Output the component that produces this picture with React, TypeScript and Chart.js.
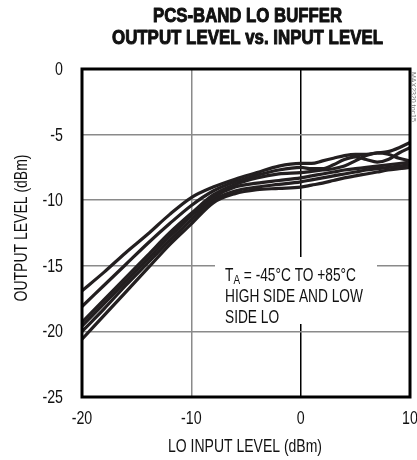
import React, { useEffect, useRef } from "react";
import { Chart, registerables } from "chart.js";

Chart.register(...registerables);

const titleLines = ["PCS-BAND LO BUFFER", "OUTPUT LEVEL vs. INPUT LEVEL"];
const xAxisTitle = "LO INPUT LEVEL (dBm)";
const yAxisTitle = "OUTPUT LEVEL (dBm)";
const noteLines = ["HIGH SIDE AND LOW", "SIDE LO"];
const sideNote = "MAX2320 toc15";

const inputLevels = [-20, -18, -16, -14, -12, -10, -8, -6, -4, -2, 0, 1, 2, 3, 4, 5, 6, 7, 8, 9, 10];
const curveA = [-16.9, -15.5, -14.0, -12.6, -11.1, -9.8, -9.0, -8.4, -7.9, -7.4, -7.2, -7.2, -7.0, -6.8, -6.6, -6.5, -6.5, -6.4, -6.3, -6.0, -5.6];
const curveB = [-18.1, -16.5, -14.9, -13.3, -11.8, -10.4, -9.3, -8.6, -8.1, -7.7, -7.5, -7.6, -7.6, -7.3, -6.9, -6.7, -6.9, -7.1, -6.9, -6.4, -6.0];
const curveC = [-19.3, -17.6, -15.9, -14.2, -12.5, -11.0, -9.6, -8.8, -8.3, -8.0, -7.9, -7.8, -7.7, -7.6, -7.4, -7.0, -6.6, -6.4, -6.5, -6.8, -7.0];
const curveD = [-19.6, -17.9, -16.2, -14.5, -12.8, -11.2, -9.8, -9.0, -8.7, -8.5, -8.3, -8.15, -8.0, -7.85, -7.7, -7.6, -7.5, -7.4, -7.3, -7.2, -7.1];
const curveE = [-20.0, -18.3, -16.5, -14.8, -13.1, -11.5, -10.0, -9.3, -9.0, -8.8, -8.6, -8.45, -8.3, -8.15, -8.0, -7.85, -7.7, -7.6, -7.5, -7.4, -7.3];
const curveF = [-20.6, -18.8, -17.0, -15.2, -13.4, -11.8, -10.2, -9.5, -9.2, -9.1, -9.0, -8.85, -8.7, -8.5, -8.3, -8.15, -8.0, -7.85, -7.7, -7.6, -7.5];
const curves = [curveA, curveB, curveC, curveD, curveE, curveF];

const xTicks = [-20, -10, 0, 10];
const yTicks = [0, -5, -10, -15, -20, -25];

const SANS = "'Liberation Sans', Arial, sans-serif";
const NARROW = 0.79; // horizontal condensing of the regular text

function drawText(
  ctx: CanvasRenderingContext2D,
  text: string,
  x: number,
  y: number,
  k: number,
  align: CanvasTextAlign,
  rot = 0
) {
  ctx.save();
  ctx.translate(x, y);
  if (rot) ctx.rotate(rot);
  ctx.scale(k, 1);
  ctx.textAlign = align;
  ctx.fillText(text, 0, 0);
  ctx.restore();
}

const decorPlugin = {
  id: "decor",
  afterDraw(chart: any) {
    const ctx: CanvasRenderingContext2D = chart.ctx;
    const a = chart.chartArea;
    const xs = chart.scales.x;
    const ys = chart.scales.y;
    ctx.save();
    // frame
    ctx.strokeStyle = "#000";
    ctx.lineWidth = 3;
    ctx.strokeRect(a.left, a.top, a.right - a.left, a.bottom - a.top);

    ctx.fillStyle = "#111";
    ctx.textBaseline = "middle";

    // tick labels from the scales
    ctx.font = `18px ${SANS}`;
    xs.ticks.forEach((t: any) => {
      drawText(ctx, String(t.value), xs.getPixelForValue(t.value), 419, NARROW, "center");
    });
    ys.ticks.forEach((t: any) => {
      drawText(ctx, String(t.value), 63, ys.getPixelForValue(t.value) + 1, NARROW, "right");
    });

    // axis titles
    ctx.font = `18px ${SANS}`;
    const kx = 154 / ctx.measureText(xAxisTitle).width;
    drawText(ctx, xAxisTitle, 245, 447, kx, "center");
    drawText(ctx, yAxisTitle, 22, 228, kx, "center", -Math.PI / 2);

    // title
    ctx.font = `bold 20px ${SANS}`;
    ctx.strokeStyle = "#111";
    ctx.lineWidth = 1;
    ctx.lineJoin = "round";
    const cx = 247.5;
    const t1 = 189 / ctx.measureText(titleLines[0]).width;
    const t2 = 271 / ctx.measureText(titleLines[1]).width;
    [
      [titleLines[0], 16, t1],
      [titleLines[1], 38, t2],
    ].forEach(([txt, y, k]: any) => {
      ctx.save();
      ctx.translate(cx, y);
      ctx.scale(k, 1);
      ctx.textAlign = "center";
      ctx.fillText(txt, 0, 0);
      ctx.strokeText(txt, 0, 0);
      ctx.restore();
    });

    // annotation box
    ctx.fillStyle = "#fff";
    ctx.fillRect(215, 257, 162, 67);
    ctx.fillStyle = "#111";
    ctx.font = `18px ${SANS}`;
    const k = 138 / ctx.measureText(noteLines[0]).width;
    const lx = 225;
    ctx.save();
    ctx.translate(lx, 276);
    ctx.scale(k, 1);
    ctx.textAlign = "left";
    ctx.fillText("T", 0, 0);
    let off = ctx.measureText("T").width;
    ctx.font = `13px ${SANS}`;
    ctx.fillText("A", off, 4);
    off += ctx.measureText("A").width;
    ctx.font = `18px ${SANS}`;
    ctx.fillText(" = -45\u00B0C TO +85\u00B0C", off, 0);
    ctx.restore();
    drawText(ctx, noteLines[0], lx, 297, k, "left");
    drawText(ctx, noteLines[1], lx, 318, k, "left");

    // side note
    ctx.save();
    ctx.translate(413, 72);
    ctx.rotate(Math.PI / 2);
    ctx.font = `7px ${SANS}`;
    ctx.fillStyle = "#777";
    ctx.textAlign = "left";
    ctx.fillText(sideNote, 0, 0);
    ctx.restore();
    ctx.restore();
  },
};

export default function App() {
  const ref = useRef<HTMLCanvasElement | null>(null);
  useEffect(() => {
    if (!ref.current) return;
    const datasets = curves.map((c) => ({
      data: inputLevels.map((x, i) => ({ x, y: c[i] })),
      borderColor: "#231f20",
      borderWidth: 3.2,
      pointRadius: 0,
      fill: false,
      cubicInterpolationMode: "monotone" as const,
    }));
    const chart = new Chart(ref.current, {
      type: "line",
      data: { datasets },
      options: {
        animation: false,
        responsive: false,
        layout: { padding: { top: 69, right: 7, left: 0, bottom: 0 } },
        plugins: { legend: { display: false }, tooltip: { enabled: false }, title: { display: false } },
        scales: {
          x: {
            type: "linear",
            min: -20,
            max: 10,
            afterBuildTicks: (s: any) => {
              s.ticks = xTicks.map((v) => ({ value: v }));
            },
            afterFit: (s: any) => {
              s.height = 63;
            },
            ticks: { display: false },
            grid: {
              drawTicks: false,
              color: (c: any) => (c.tick && c.tick.value === 0 ? "#000" : "#8a8a8a"),
              lineWidth: 1.5,
            },
            border: { display: false },
          },
          y: {
            type: "linear",
            min: -25,
            max: 0,
            afterBuildTicks: (s: any) => {
              s.ticks = yTicks.map((v) => ({ value: v }));
            },
            afterFit: (s: any) => {
              s.width = 82;
            },
            ticks: { display: false },
            grid: { drawTicks: false, color: "#8a8a8a", lineWidth: 1.5 },
            border: { display: false },
          },
        },
      },
      plugins: [decorPlugin],
    });
    return () => chart.destroy();
  }, []);
  return (
    <div style={{ position: "fixed", left: 0, top: 0, width: 417, height: 460, background: "#fff" }}>
      <canvas ref={ref} width={417} height={460} style={{ display: "block" }} />
    </div>
  );
}
